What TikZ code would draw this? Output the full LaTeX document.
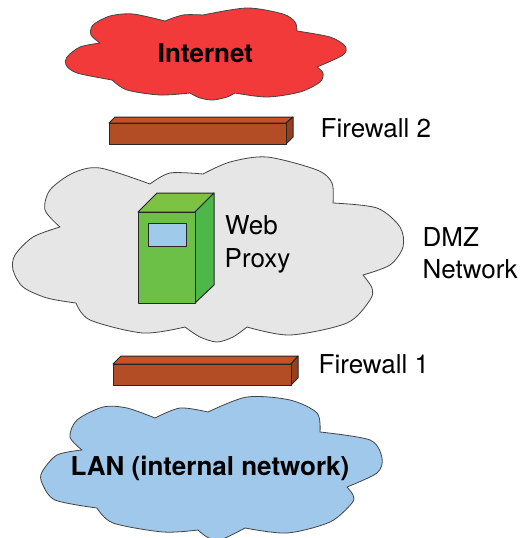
\documentclass[tikz,border=0pt]{standalone}
\usepackage{fontspec}
\setmainfont{TeX Gyre Heros}
\definecolor{cloudred}{HTML}{F23A3A}
\definecolor{cloudgray}{HTML}{E6E6E6}
\definecolor{cloudblue}{HTML}{9FC8EA}
\definecolor{cloudline}{HTML}{444444}
\definecolor{brickfront}{HTML}{B34D25}
\definecolor{bricktop}{HTML}{C94F26}
\definecolor{brickside}{HTML}{983F20}
\definecolor{srvfront}{HTML}{6CBF47}
\definecolor{srvtop}{HTML}{7DC242}
\definecolor{srvside}{HTML}{4DB749}
\definecolor{srvwin}{HTML}{9FCBEB}
\tikzset{
  cloudshape/.style={draw=cloudline,line width=0.8pt,line join=round},
  boxface/.style={draw=black!85,line width=1pt,line join=round},
  plain/.style={inner sep=0pt,anchor=base west,font=\fontsize{26}{30}\selectfont},
  heading/.style={inner sep=0pt,anchor=base,font=\fontsize{26}{30}\bfseries\selectfont}
}
\begin{document}
\begin{tikzpicture}[x=1pt,y=-1pt]
\path[use as bounding box] (0,0) rectangle (520,538);
% Internet cloud
\draw[cloudshape,fill=cloudred]
  plot[smooth] coordinates {(100,43)(80,47)(67,57)(66,65)(77,73)(112,80)}
  -- plot[smooth] coordinates {(112,80)(127,90)(160,95)(190,93)}
  -- plot[smooth] coordinates {(190,93)(200,98)(213,100)(227,97)(235,93)}
  -- plot[smooth] coordinates {(235,93)(267,97)(300,92)(320,82)(323,73)(317,67)}
  -- plot[smooth] coordinates {(317,67)(343,55)(345,46)(330,37)(297,31)}
  -- plot[smooth] coordinates {(297,31)(295,22)(283,14)(247,8)(203,15)}
  -- plot[smooth] coordinates {(203,15)(183,15)(165,21)}
  -- plot[smooth] coordinates {(165,21)(133,14)(110,16)(93,25)(91,35)(100,43)} -- cycle;
% DMZ cloud
\draw[cloudshape,fill=cloudgray]
  plot[smooth] coordinates {(60,227)(33,237)(15,255)(13,270)(23,287)(47,298)(76,303)}
  -- plot[smooth] coordinates {(76,303)(90,320)(143,333)(185,327)}
  -- plot[smooth] coordinates {(185,327)(200,337)(217,342)(233,337)(247,327)}
  -- plot[smooth] coordinates {(247,327)(290,335)(347,323)(370,300)(372,288)(363,275)}
  -- plot[smooth] coordinates {(363,275)(390,265)(403,247)(400,227)(377,208)(333,203)}
  -- plot[smooth] coordinates {(333,203)(332,183)(317,170)(267,157)(230,162)(203,174)}
  -- plot[smooth] coordinates {(203,174)(170,173)(150,184)}
  -- plot[smooth] coordinates {(150,184)(100,168)(73,173)(50,190)(45,210)(60,227)} -- cycle;
% LAN cloud
\draw[cloudshape,fill=cloudblue]
  plot[smooth] coordinates {(82,450)(57,455)(42,472)(42,483)(55,500)(97,508)}
  -- plot[smooth] coordinates {(97,508)(113,523)(163,532)(198,530)}
  -- plot[smooth] coordinates {(198,530)(207,537)(220,540)(245,528)}
  -- plot[smooth] coordinates {(245,528)(287,533)(330,522)(352,503)(353,495)(347,487)}
  -- plot[smooth] coordinates {(347,487)(377,473)(382,458)(370,440)(320,432)}
  -- plot[smooth] coordinates {(320,432)(317,413)(290,400)(247,397)(208,412)}
  -- plot[smooth] coordinates {(208,412)(180,408)(155,418)}
  -- plot[smooth] coordinates {(155,418)(127,408)(103,407)(77,420)(70,437)(82,450)} -- cycle;
% Firewall 2
\draw[boxface,fill=bricktop] (109,123) -- (115,117) -- (293,117) -- (286,123) -- cycle;
\draw[boxface,fill=brickside] (286,123) -- (293,117) -- (293,137) -- (286,144) -- cycle;
\draw[boxface,fill=brickfront] (109,123) rectangle (286,144);
% Firewall 1
\draw[boxface,fill=bricktop] (113,364) -- (121,356) -- (298,356) -- (291,364) -- cycle;
\draw[boxface,fill=brickside] (291,364) -- (298,356) -- (298,378) -- (291,385) -- cycle;
\draw[boxface,fill=brickfront] (113,364) rectangle (291,385);
% Server
\draw[boxface,fill=srvtop] (138,212) -- (157,193) -- (214,193) -- (195,212) -- cycle;
\draw[boxface,fill=srvside] (195,212) -- (214,193) -- (214,285) -- (195,303) -- cycle;
\draw[boxface,fill=srvfront] (138,212) rectangle (195,303);
\draw[boxface,fill=srvwin] (148,223) rectangle (186,246);
% Labels
\node[heading] (internet) at (205.5,62) {Internet};
\node[heading] (lan) at (210,475) {LAN (internal network)};
\node[plain] (fw2) at (320.5,137) {Firewall 2};
\node[plain] (fw1) at (318.5,373) {Firewall 1};
\node[plain] (web) at (225,234) {Web};
\node[plain] (proxy) at (224.5,267) {Proxy};
\node[plain] (dmz) at (422.5,246) {DMZ};
\node[plain] (network) at (422.5,278) {Network};
\end{tikzpicture}
\end{document}
